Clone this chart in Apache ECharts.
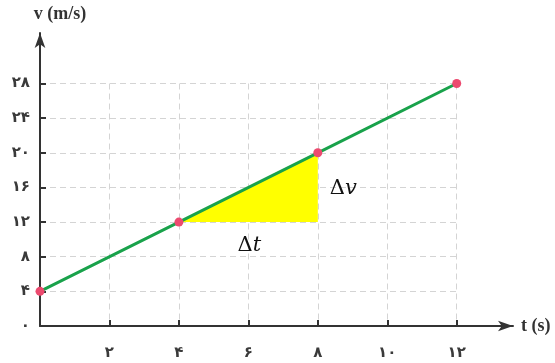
<!DOCTYPE html>
<html><head><meta charset="utf-8">
<script src="https://cdn.jsdelivr.net/npm/echarts@6/dist/echarts.min.js"></script>
<style>html,body{margin:0;padding:0;background:#fff}#c{width:555px;height:363px}</style>
</head><body><div id="c"></div>
<script>
const timeValues = [0, 4, 8, 12];
const velocityValues = [4, 12, 20, 28];
const triangleT = [4, 8, 8];
const triangleV = [12, 12, 20];
const persianDigits = ['۰','۱','۲','۳','۴','۵','۶','۷','۸','۹'];
const toPersian = v => String(v).split('').map(c => persianDigits[+c] ?? c).join('');
const labelDv = {t: 8, v: 16, text: 'Δ', italic: 'v'};
const labelDt = {t: 6, v: 10, text: 'Δ', italic: 't'};

const chart = echarts.init(document.getElementById('c'));
const labelStyle = {fontFamily: 'DejaVu Sans', fontSize: 15, fontWeight: 'bold', color: '#3a3a3a'};
const gridLine = {show: true, lineStyle: {type: [6, 4], color: '#d4d4d4', width: 1}};
chart.setOption({
  animation: false,
  grid: [
    {left: 40, top: 83.5, right: 98.3, bottom: 37},
    {left: 40, top: 33, right: 42, bottom: 37}
  ],
  xAxis: [
    {type: 'value', gridIndex: 0, min: 0, max: 12, interval: 2,
     axisLine: {show: false}, axisTick: {show: true, inside: true, length: 6, lineStyle: {color: '#333', width: 2}},
     splitLine: gridLine,
     axisLabel: Object.assign({margin: 20, formatter: v => v === 0 ? '' : toPersian(v)}, labelStyle)},
    {type: 'value', gridIndex: 1, min: 0, max: 1,
     axisLine: {show: true, symbol: ['none', 'arrow'], symbolSize: [8, 15], lineStyle: {color: '#333', width: 2}},
     axisTick: {show: false}, axisLabel: {show: false}, splitLine: {show: false},
     name: 't (s)', nameGap: 8, nameTextStyle: {fontFamily: 'Liberation Serif', fontSize: 18, color: '#333', fontWeight: 'bold'}}
  ],
  yAxis: [
    {type: 'value', gridIndex: 0, min: 0, max: 28, interval: 4,
     axisLine: {show: false}, axisTick: {show: true, inside: true, length: 6, lineStyle: {color: '#333', width: 2}},
     splitLine: gridLine,
     axisLabel: Object.assign({margin: 10, formatter: v => toPersian(v)}, labelStyle)},
    {type: 'value', gridIndex: 1, min: 0, max: 1,
     axisLine: {show: true, symbol: ['none', 'arrow'], symbolSize: [8, 15], lineStyle: {color: '#333', width: 2}},
     axisTick: {show: false}, axisLabel: {show: false}, splitLine: {show: false},
     name: 'v (m/s)', nameGap: 10, nameTextStyle: {fontFamily: 'Liberation Serif', fontSize: 18, color: '#333', fontWeight: 'bold', align: 'center', padding: [0, 0, 0, 40]}}
  ],
  series: [
    {type: 'custom', xAxisIndex: 0, yAxisIndex: 0, z: 1, data: [[0, 0]],
     renderItem: (params, api) => {
       const pts = triangleT.map((t, i) => api.coord([t, triangleV[i]]));
       const pDv = api.coord([labelDv.t, labelDv.v]);
       const pDt = api.coord([labelDt.t, labelDt.v]);
       const rich = {d: {fontFamily: 'DejaVu Serif', fontSize: 21, fill: '#111'}, i: {fontFamily: 'DejaVu Serif', fontStyle: 'italic', fontSize: 21, fill: '#111'}};
       return {type: 'group', children: [
         {type: 'polygon', shape: {points: pts}, style: {fill: '#ffff00'}},
         {type: 'text', x: pDv[0] + 12, y: pDv[1] + 1, style: {text: '{d|' + labelDv.text + '}{i|' + labelDv.italic + '}', rich, verticalAlign: 'middle', align: 'left'}},
         {type: 'text', x: pDt[0] + 1, y: pDt[1] + 6, style: {text: '{d|' + labelDt.text + '}{i|' + labelDt.italic + '}', rich, verticalAlign: 'middle', align: 'center'}}
       ]};
     }},
    {type: 'line', xAxisIndex: 0, yAxisIndex: 0, z: 3,
     data: timeValues.map((t, i) => [t, velocityValues[i]]),
     symbol: 'circle', symbolSize: 9, itemStyle: {color: '#ec4a6f'},
     lineStyle: {color: '#19a24b', width: 3}}
  ]
});
</script></body></html>
